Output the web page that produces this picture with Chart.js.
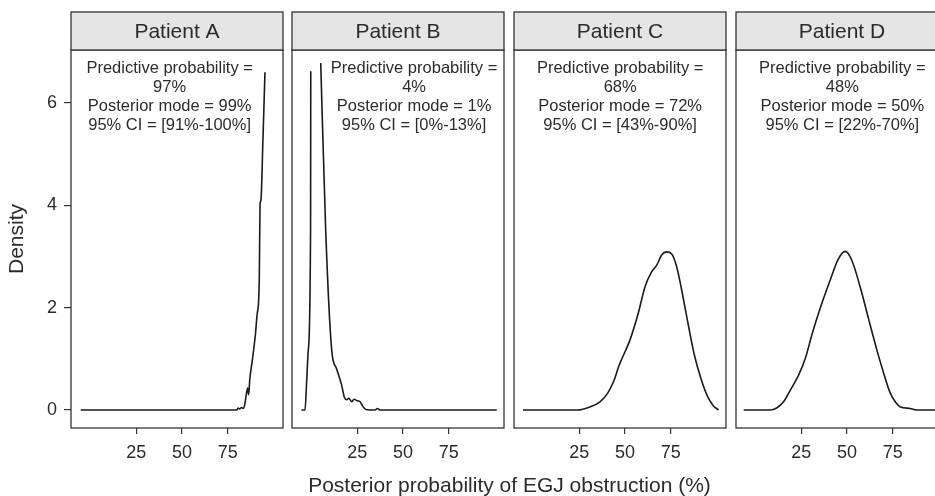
<!DOCTYPE html>
<html>
<head>
<meta charset="utf-8">
<script src="https://cdn.jsdelivr.net/npm/chart.js@4.4.1/dist/chart.umd.min.js"></script>
<style>
  html, body { margin:0; padding:0; background:#fff; }
  #wrap { position:relative; width:935px; height:496px; overflow:hidden; background:#fff; }
  canvas { position:absolute; top:0; }
  #xtitle { position:absolute; left:71px; width:877px; top:472px; height:26px; line-height:26px;
            text-align:center; font-family:"Liberation Sans", Arial, sans-serif; font-size:21px; color:#2b2b2b; }
</style>
</head>
<body>
<div id="wrap">
  <canvas id="c0" width="285" height="496" style="left:0px"></canvas>
  <canvas id="c1" width="216" height="496" style="left:290px"></canvas>
  <canvas id="c2" width="216" height="496" style="left:512px"></canvas>
  <canvas id="c3" width="216" height="496" style="left:734px"></canvas>
  <div id="xtitle">Posterior probability of EGJ obstruction (%)</div>
</div>
<script>
// ---- data ----
const patients = ['Patient A', 'Patient B', 'Patient C', 'Patient D'];
const xTickValues = [25, 50, 75];
const yTickValues = [0, 2, 4, 6];
const xTitle = 'Posterior probability of EGJ obstruction (%)';
const yTitle = 'Density';

const annotationLines = [
  ['Predictive probability =', '97%', 'Posterior mode = 99%', '95% CI = [91%-100%]'],
  ['Predictive probability =', '4%', 'Posterior mode = 1%', '95% CI = [0%-13%]'],
  ['Predictive probability =', '68%', 'Posterior mode = 72%', '95% CI = [43%-90%]'],
  ['Predictive probability =', '48%', 'Posterior mode = 50%', '95% CI = [22%-70%]']
];
const annotationX = [43.2, 56.0, 47.3, 47.4];
const annotationTopY = 6.68;

const xA = [-5.4, 79.9, 80.6, 81.4, 82.4, 83.4, 84.2, 85.0, 85.8, 86.4, 87.0, 88.5, 90.0, 91.2, 91.4, 92.2, 92.6, 93.1, 94.2, 95.3];
const yA = [0, 0, 0.04, 0.02, 0.05, 0.03, 0.1, 0.28, 0.43, 0.3, 0.6, 1.0, 1.45, 1.92, 1.95, 2.6, 4.0, 4.1, 5.3, 6.6];

const xB = [-5.5, -3.6, -2.7, -1.8, -0.55, -0.45, 2.2, 5.0, 7.7, 11.0, 13.7, 16.4, 17.9, 19.2, 20.4, 21.9, 23.2, 25.0, 26.5, 27.9, 29.7, 34.7, 35.9, 37.4, 101.2];
const yB = [0, 0, 0.55, 1.17, 3.52, 6.62, null, 6.78, 3.52, 1.17, 0.8, 0.49, 0.25, 0.2, 0.23, 0.16, 0.21, 0.18, 0.16, 0.08, 0.01, 0, 0.03, 0, 0];

const xC = [-5.8, 24.0, 30.8, 36.3, 40.5, 44.0, 46.5, 48.5, 52.7, 57.2, 60.9, 64.5, 67.3, 70.0, 72.7, 75.5, 78.2, 80.9, 84.4, 87.7, 91.4, 95.0, 98.3, 101.1];
const yC = [0, 0, 0.06, 0.16, 0.33, 0.58, 0.85, 1.02, 1.37, 1.89, 2.41, 2.70, 2.83, 3.03, 3.09, 3.05, 2.80, 2.35, 1.69, 1.1, 0.62, 0.27, 0.08, 0.0];

const xD = [-6.5, 8.0, 11.5, 15.3, 19.0, 23.5, 27.2, 31.0, 35.4, 40.8, 45.2, 49.0, 52.3, 57.2, 61.6, 66.3, 70.0, 73.6, 76.5, 79.1, 84.5, 88.2, 101];
const yD = [0, 0, 0.04, 0.16, 0.39, 0.68, 1.01, 1.5, 2.0, 2.54, 2.95, 3.1, 2.95, 2.4, 1.8, 1.17, 0.72, 0.33, 0.15, 0.06, 0.03, 0, 0];

const seriesX = [xA, xB, xC, xD];
const seriesY = [yA, yB, yC, yD];

// ---- style / layout ----
const FONT = '"Liberation Sans", Arial, sans-serif';
const TEXT = '#2b2b2b';
const AXIS = '#333333';
const X_MIN = -10.7, X_MAX = 105.15;
const Y_MIN = -0.352, Y_MAX = 7.035;

const panelPlugin = {
  id: 'panel',
  afterDraw(chart, args, opts) {
    const ctx = chart.ctx, a = chart.chartArea;
    const idx = opts.idx;
    ctx.save();
    ctx.strokeStyle = AXIS; ctx.lineWidth = 1.3;
    ctx.strokeRect(a.left, a.top, a.right - a.left, a.bottom - a.top);
    const sTop = 12;
    ctx.fillStyle = '#e5e5e5';
    ctx.fillRect(a.left, sTop, a.right - a.left, a.top - sTop);
    ctx.strokeRect(a.left, sTop, a.right - a.left, a.top - sTop);
    ctx.fillStyle = TEXT;
    ctx.font = '21px ' + FONT;
    ctx.textAlign = 'center'; ctx.textBaseline = 'middle';
    ctx.fillText(patients[idx], (a.left + a.right) / 2, (sTop + a.top) / 2 + 1);
    const xs = chart.scales.x, ys = chart.scales.y;
    const cx = xs.getPixelForValue(annotationX[idx]);
    const cy = ys.getPixelForValue(annotationTopY);
    ctx.font = '16.5px ' + FONT;
    annotationLines[idx].forEach((t, i) => ctx.fillText(t, cx, cy + i * 19));
    ctx.restore();
  }
};

function makeChart(idx) {
  const showY = idx === 0;
  const pts = seriesX[idx].map((x, i) => ({ x: x, y: seriesY[idx][i] }));
  new Chart(document.getElementById('c' + idx), {
    type: 'line',
    data: { datasets: [{
      data: pts, borderColor: '#1a1a1a', borderWidth: 1.6, pointRadius: 0,
      fill: false, cubicInterpolationMode: 'monotone', spanGaps: false
    }]},
    options: {
      responsive: false, animation: false, devicePixelRatio: 1,
      layout: { padding: { top: 50, left: showY ? 0 : 2, right: 2, bottom: 0 } },
      plugins: { legend: { display: false }, tooltip: { enabled: false }, panel: { idx: idx } },
      scales: {
        x: {
          type: 'linear', min: X_MIN, max: X_MAX,
          afterBuildTicks: s => { s.ticks = xTickValues.map(v => ({ value: v })); },
          afterFit: s => { s.height = 68; },
          grid: { drawOnChartArea: false, drawTicks: true, tickLength: 6, color: AXIS, lineWidth: 1.2 },
          border: { display: false },
          ticks: { font: { family: FONT, size: 18 }, color: TEXT, padding: 8, maxRotation: 0, autoSkip: false }
        },
        y: {
          display: showY, type: 'linear', min: Y_MIN, max: Y_MAX,
          afterBuildTicks: s => { s.ticks = yTickValues.map(v => ({ value: v })); },
          afterFit: s => { s.width = showY ? 71 : 0; },
          grid: { drawOnChartArea: false, drawTicks: true, tickLength: 7, color: AXIS, lineWidth: 1.2 },
          border: { display: false },
          ticks: { font: { family: FONT, size: 18 }, color: TEXT, padding: 7, autoSkip: false },
          title: { display: true, text: yTitle, font: { family: FONT, size: 21 }, color: TEXT, padding: { top: 5, bottom: 0 } }
        }
      }
    },
    plugins: [panelPlugin]
  });
}
document.getElementById('xtitle').textContent = xTitle;
[0, 1, 2, 3].forEach(makeChart);
</script>
</body>
</html>
